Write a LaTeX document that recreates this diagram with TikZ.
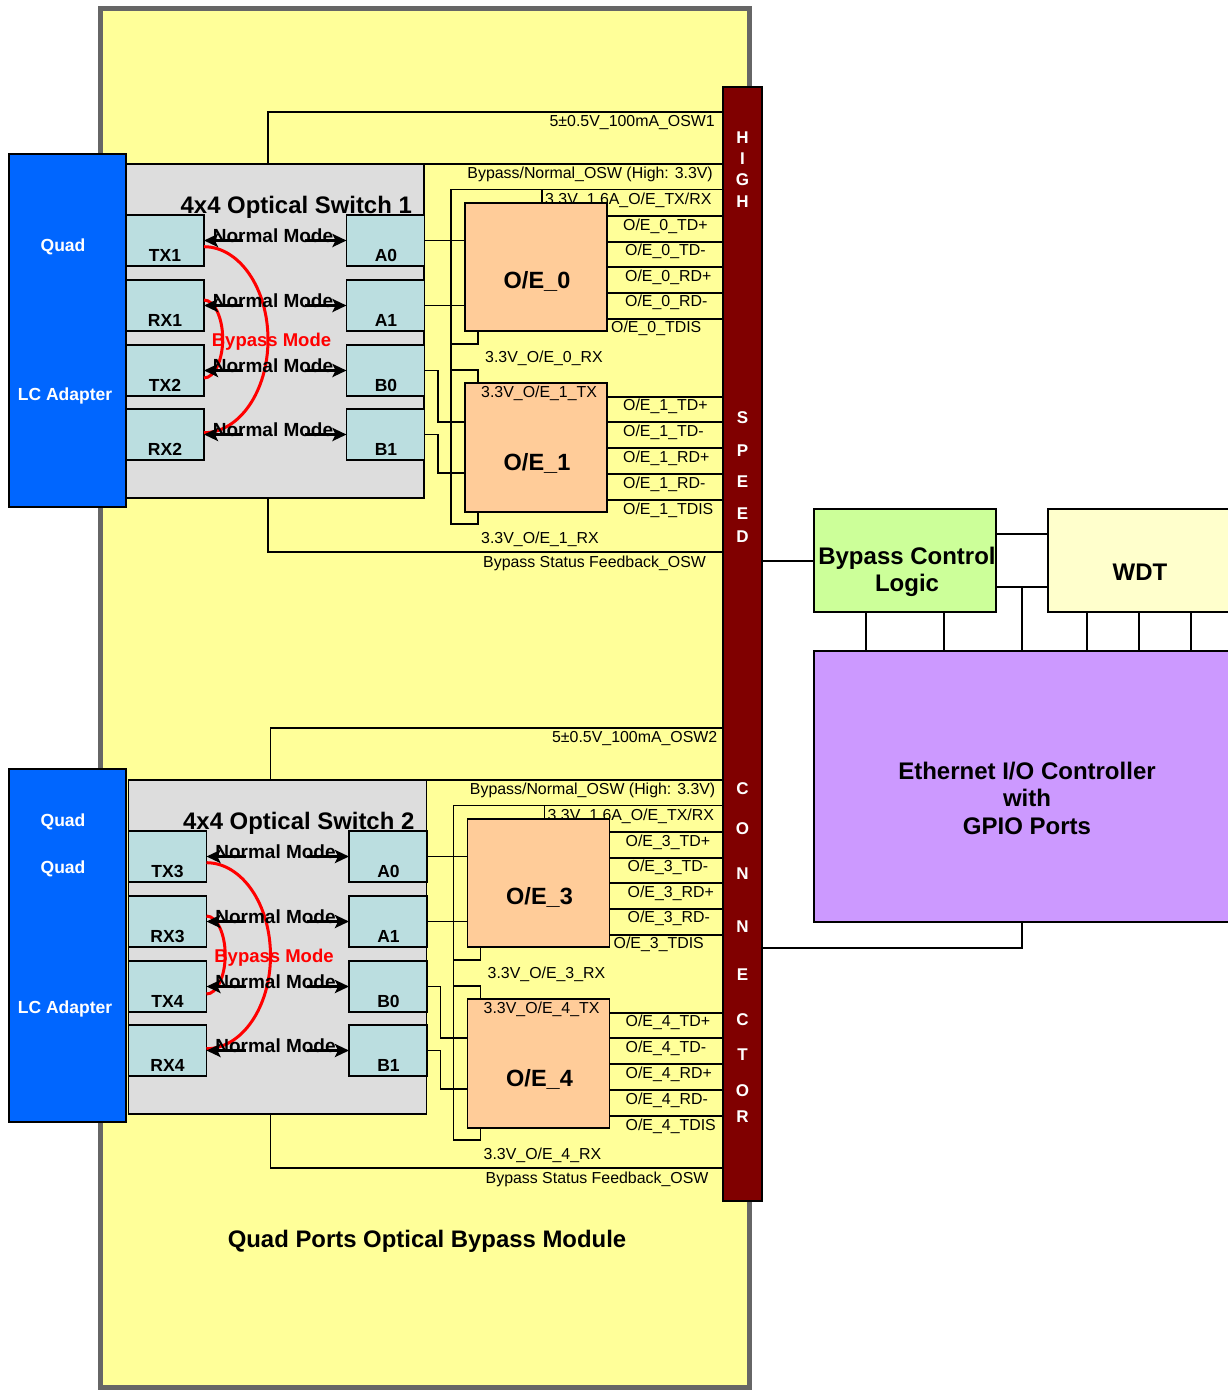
\documentclass[tikz,border=0pt]{standalone}
\usepackage{fontspec}
\setmainfont{Liberation Sans}
\usetikzlibrary{arrows.meta}
\definecolor{modfill}{HTML}{FFFF99}
\definecolor{modborder}{HTML}{666666}
\definecolor{lcblue}{HTML}{0066FF}
\definecolor{swgray}{HTML}{DDDDDD}
\definecolor{portcyan}{HTML}{BBDEE0}
\definecolor{oeorange}{HTML}{FFCC99}
\definecolor{conred}{HTML}{800000}
\definecolor{bclgreen}{HTML}{CCFF99}
\definecolor{wdtyellow}{HTML}{FFFFCC}
\definecolor{ethviolet}{HTML}{CC99FF}
\tikzset{
 boxbase/.style={draw=black, line width=1.8pt, inner sep=0pt, outer sep=0pt},
 swbox/.style={boxbase, fill=swgray, minimum width=298pt, minimum height=334pt},
 portbox/.style={boxbase, fill=portcyan, minimum width=78pt, minimum height=51pt},
 oebox/.style={boxbase, fill=oeorange, minimum width=142pt, minimum height=128.5pt},
 lcbox/.style={boxbase, fill=lcblue, minimum width=117pt, minimum height=353pt},
 wire/.style={draw=black, line width=1.8pt},
 modearrow/.style={line width=3pt, -{Stealth[length=14pt,width=13pt,inset=3pt]}},
 bypassarc/.style={draw=red, line width=3pt},
 sig/.style={inner sep=0pt, font=\fontsize{15.9}{18}\selectfont},
 portlbl/.style={inner sep=0pt, anchor=base, font=\fontsize{17.5}{21}\selectfont\bfseries},
 lctxt/.style={inner sep=0pt, anchor=base, text=white, font=\fontsize{17.5}{21}\selectfont\bfseries},
 modetxt/.style={inner sep=0pt, anchor=base, font=\fontsize{19}{22}\selectfont\bfseries},
 bypasstxt/.style={inner sep=0pt, anchor=base, text=red, font=\fontsize{18.5}{22}\selectfont\bfseries},
 swtitle/.style={inner sep=0pt, font=\fontsize{23.9}{28}\selectfont\bfseries},
 oetxt/.style={inner sep=0pt, font=\fontsize{23.5}{27}\selectfont\bfseries},
 bigtxt/.style={inner sep=0pt, align=center, font=\fontsize{24}{27.5}\selectfont\bfseries},
 connlet/.style={inner sep=0pt, text=white, font=\fontsize{17}{20}\selectfont\bfseries},
}
\newcommand\osgroup[6]{%
 \node[swbox] (#1sw) at (275,331) {};
 \node[swtitle, anchor=base east] (#1title) at (412,213.2) {4x4 Optical Switch #2};
 \node[portbox] (#1tA) at (165,240.5) {};
 \node[portbox] (#1rA) at (165,305.5) {};
 \node[portbox] (#1tB) at (165,370.5) {};
 \node[portbox] (#1rB) at (165,434.5) {};
 \node[portbox] (#1aA) at (385.5,240.5) {};
 \node[portbox] (#1aB) at (385.5,305.5) {};
 \node[portbox] (#1bA) at (385.5,370.5) {};
 \node[portbox] (#1bB) at (385.5,434.5) {};
 \node[portlbl] (#1tAl) at (165,261.3) {TX#3};
 \node[portlbl] (#1rAl) at (165,326.3) {RX#3};
 \node[portlbl] (#1tBl) at (165,391.3) {TX#4};
 \node[portlbl] (#1rBl) at (165,455.3) {RX#4};
 \node[portlbl] (#1aAl) at (386,261.3) {A0};
 \node[portlbl] (#1aBl) at (386,326.3) {A1};
 \node[portlbl] (#1bAl) at (386,391.3) {B0};
 \node[portlbl] (#1bBl) at (386,455.3) {B1};
 \draw[bypassarc] (#1tA.east |- 0,246.7) .. controls (239.3,246.7) and (268,288.3) .. (268,339.7)
   .. controls (268,391.1) and (239.3,432.7) .. (#1rB.east |- 0,432.7);
 \draw[bypassarc] (#1rA.east |- 0,300) .. controls (214.3,300) and (222.7,317.5) .. (222.7,339)
   .. controls (222.7,360.5) and (214.3,378) .. (#1tB.east |- 0,378);
 \foreach \p/\q/\yy in {tA/aA/242.8, rA/aB/307.8, tB/bA/372.8, rB/bB/436.8} {
   \draw[modearrow] ([xshift=39pt]#1\p.east) -- (#1\p.east);
   \draw[modearrow] ([xshift=-42pt]#1\q.west) -- (#1\q.west);
   \node[modetxt] (#1nm\p) at (273,\yy) {Normal Mode};
 }
 \node[bypasstxt] (#1bm) at (271.5,346.6) {Bypass Mode};
 \node[sig, anchor=base west] (#1lsup) at (545,204) {3.3V\_1.6A\_O/E\_TX/RX};
 \node[oebox] (#1oA) at (536,267) {};
 \node[oebox] (#1oB) at (536,447.5) {};
 \node[oetxt, anchor=base] (#1oAt) at (537,288.4) {O/E\_#5};
 \node[oetxt, anchor=base] (#1oBt) at (537,470) {O/E\_#6};
 \node[sig, anchor=base east] (#1lfive) at (715,126.6) {5±0.5V\_100mA\_OSW#2};
 \node[sig, anchor=base east] (#1lbn) at (713,178.6) {Bypass/Normal\_OSW (High: 3.3V)};
 \foreach \s/\xx/\yy [count=\i] in {TD+/623/230.6, TD-/625/255.6, RD+/625/281.6, RD-/625/306.6, TDIS/611/332.6}
   \node[sig, anchor=base west] (#1lA\i) at (\xx,\yy) {O/E\_#5\_\s};
 \foreach \s/\yy [count=\i] in {TD+/410.6, TD-/436.3, RD+/462.3, RD-/488.3, TDIS/514}
   \node[sig, anchor=base west] (#1lB\i) at (623,\yy) {O/E\_#6\_\s};
 \node[sig, anchor=base west] (#1lrxA) at (485,362.3) {3.3V\_O/E\_#5\_RX};
 \node[sig, anchor=base west] (#1ltxB) at (481,397.3) {3.3V\_O/E\_#6\_TX};
 \node[sig, anchor=base west] (#1lrxB) at (481,543.3) {3.3V\_O/E\_#6\_RX};
 \node[sig, anchor=base west] (#1lfb) at (483,567.3) {Bypass Status Feedback\_OSW};
 % wires
 \draw[wire] (268,0 |- #1sw.north) -- (268,112) -- (conn.west |- 0,112);
 \draw[wire] (#1sw.north east) -- (conn.west |- #1sw.north east);
 \draw[wire] (268,0 |- #1sw.south) -- (268,551.7) -- (conn.west |- 0,551.7);
 \draw[wire] (conn.west |- 0,189.5) -- (451,189.5) -- (451,524) -- (478,524) -- (478,0 |- #1oB.south);
 \draw[wire] (542,189.5) -- (542,0 |- #1oA.north);
 \draw[wire] (478,0 |- #1oA.south) -- (478,344) -- (451,344);
 \draw[wire] (451,370) -- (478,370) -- (478,0 |- #1oB.north);
 \draw[wire] (#1aA.east) -- (#1oA.west |- #1aA.east);
 \draw[wire] (#1aB.east) -- (#1oA.west |- #1aB.east);
 \draw[wire] (#1bA.east) -- (438,0 |- #1bA.east) -- (438,422) -- (#1oB.west |- 0,422);
 \draw[wire] (#1bB.east) -- (438,0 |- #1bB.east) -- (438,473) -- (#1oB.west |- 0,473);
 \foreach \yy in {216,241.7,267.3,292.7,319.3}
   \draw[wire] (#1oA.east |- 0,\yy) -- (conn.west |- 0,\yy);
 \foreach \yy in {396.7,422,448.3,474,500}
   \draw[wire] (#1oB.east |- 0,\yy) -- (conn.west |- 0,\yy);
}
\begin{document}
\begin{tikzpicture}[x=1pt,y=-1pt]
\useasboundingbox (0,0) rectangle (1228,1390);
% module
\node[draw=modborder, line width=5pt, fill=modfill, minimum width=649pt, minimum height=1378.5pt, inner sep=0pt, outer sep=0pt] (module) at (425,697.75) {};
\node[swtitle, anchor=base] (modtitle) at (427,1247) {Quad Ports Optical Bypass Module};
% connector
\node[boxbase, fill=conred, minimum width=39pt, minimum height=1114pt] (conn) at (742.5,644) {};
\foreach \c/\yy [count=\i] in {H/138,I/159,G/180,H/202,S/418,P/451,E/482,E/514,D/537,C/789,O/829,N/874,N/927,E/975,C/1020,T/1055,O/1091,R/1117}
  \node[connlet] (cl\i) at (742.5,\yy) {\c};
% LC adapters
\node[lcbox] (lcA) at (67.5,330.5) {};
\node[lctxt] (lcAq) at (63,251.3) {Quad};
\node[lctxt] (lcAl) at (65,400.3) {LC Adapter};
\node[lcbox] (lcB) at (67.5,945.5) {};
\node[lctxt] (lcBq) at (63,826.3) {Quad};
\node[lctxt] (lcBqq) at (63,873.3) {Quad};
\node[lctxt] (lcBl) at (65,1013.3) {LC Adapter};
% groups
\osgroup{T}{1}{1}{2}{0}{1}
\begin{scope}[shift={(2.5,616)}]
\osgroup{B}{2}{3}{4}{3}{4}
\end{scope}
% right side
\node[boxbase, fill=bclgreen, minimum width=182pt, minimum height=103pt] (bcl) at (905,560.5) {};
\node[bigtxt] (bclt) at (907,572) {Bypass Control\\Logic};
\node[boxbase, fill=wdtyellow, minimum width=184pt, minimum height=103pt] (wdt) at (1140,560.5) {};
\node[bigtxt] (wdtt) at (1140,572) {WDT};
\node[boxbase, fill=ethviolet, minimum width=426pt, minimum height=271pt] (eth) at (1027,786.5) {};
\node[bigtxt] (etht) at (1027,798) {Ethernet I/O Controller\\with\\GPIO Ports};
\draw[wire] (conn.east |- 0,561) -- (bcl.west |- 0,561);
\draw[wire] (bcl.east |- 0,534) -- (wdt.west |- 0,534);
\draw[wire] (bcl.east |- 0,587) -- (wdt.west |- 0,587);
\draw[wire] (1022,587) -- (1022,0 |- eth.north);
\foreach \xx in {866,944} \draw[wire] (\xx,0 |- bcl.south) -- (\xx,0 |- eth.north);
\foreach \xx in {1087,1139,1191} \draw[wire] (\xx,0 |- wdt.south) -- (\xx,0 |- eth.north);
\draw[wire] (1022,0 |- eth.south) -- (1022,948) -- (conn.east |- 0,948);
\end{tikzpicture}
\end{document}
